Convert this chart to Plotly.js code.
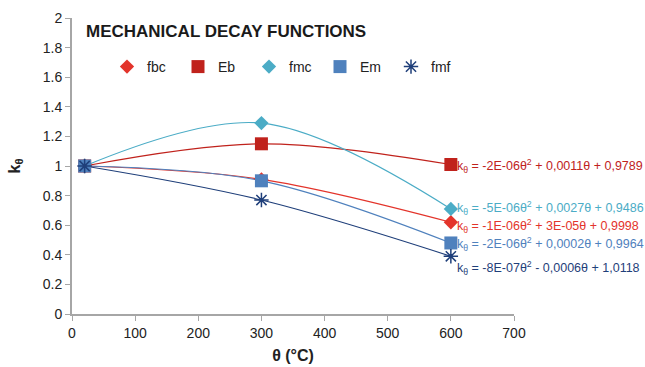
<!DOCTYPE html>
<html>
<head>
<meta charset="utf-8">
<script src="https://cdn.plot.ly/plotly-3.0.1.min.js"></script>
<style>html,body{margin:0;padding:0;background:#fff;}#chart{width:645px;height:367px;}</style>
</head>
<body>
<div id="chart"></div>
<script>
const theta = [20, 300, 600];
const seriesNames = ["fbc", "Eb", "fmc", "Em", "fmf"];
const fbc = [1, 0.91, 0.62];
const Eb = [1, 1.15, 1.01];
const fmc = [1, 1.29, 0.71];
const Em = [1, 0.90, 0.48];
const fmf = [1, 0.77, 0.39];
const equations = [
  "k<sub>θ</sub> = -1E-06θ<sup>2</sup> + 3E-05θ + 0,9998",
  "k<sub>θ</sub> = -2E-06θ<sup>2</sup> + 0,0011θ + 0,9789",
  "k<sub>θ</sub> = -5E-06θ<sup>2</sup> + 0,0027θ + 0,9486",
  "k<sub>θ</sub> = -2E-06θ<sup>2</sup> + 0,0002θ + 0,9964",
  "k<sub>θ</sub> = -8E-07θ<sup>2</sup> - 0,0006θ + 1,0118"
];
const xTicks = [0, 100, 200, 300, 400, 500, 600, 700];
const yTicks = [0, 0.2, 0.4, 0.6, 0.8, 1, 1.2, 1.4, 1.6, 1.8, 2];

const values = [fbc, Eb, fmc, Em, fmf];
const colors = ["#e3342b", "#c0221c", "#4bacc6", "#4f81bd", "#1f3f7a"];
const symbols = ["diamond", "square", "diamond", "square", "asterisk-open"];
const sizes = [11, 13, 11, 13, 12];
const eqY = [226, 166, 208, 244, 268];

const traces = [];
values.forEach((v, i) => {
  traces.push({
    x: theta, y: v, type: "scatter", mode: "lines",
    line: {color: colors[i], width: 1.2, shape: "spline", smoothing: 1},
    showlegend: false, hoverinfo: "skip"
  });
});
values.forEach((v, i) => {
  traces.push({
    x: theta, y: v, type: "scatter", mode: "markers", name: seriesNames[i],
    marker: {color: colors[i], symbol: symbols[i], size: sizes[i],
             line: {color: colors[i], width: symbols[i] === "asterisk-open" ? 1.5 : 0}}
  });
});

const annotations = [];
annotations.push({
  xref: "paper", yref: "paper", x: (84 - 72) / 442, y: (314 - 31) / 296,
  xanchor: "left", yanchor: "middle", showarrow: false,
  text: "<b>MECHANICAL DECAY FUNCTIONS</b>",
  font: {family: "Liberation Sans, Arial, sans-serif", size: 17, color: "#1a1a1a"}
});
equations.forEach((t, i) => {
  annotations.push({
    xref: "paper", yref: "paper", x: (455 - 72) / 442, y: (314 - eqY[i]) / 296,
    xanchor: "left", yanchor: "middle", showarrow: false, text: t,
    font: {family: "Liberation Sans, Arial, sans-serif", size: 12.5, color: colors[i]}
  });
});

const axisCommon = {
  showgrid: false, zeroline: false, showline: true, linecolor: "#a6a6a6", linewidth: 2,
  ticks: "outside", ticklen: 5, tickcolor: "#a6a6a6", tickwidth: 1,
  tickfont: {family: "Liberation Sans, Arial, sans-serif", size: 14, color: "#222"}
};

const layout = {
  width: 645, height: 367,
  margin: {l: 72, r: 131, t: 18, b: 53},
  paper_bgcolor: "#fff", plot_bgcolor: "#fff",
  font: {family: "Liberation Sans, Arial, sans-serif"},
  xaxis: Object.assign({}, axisCommon, {
    range: [0, 700], tickvals: xTicks, ticktext: xTicks.map(String),
    title: {text: "<b>θ (°C)</b>", standoff: 10, font: {size: 16, color: "#222"}}
  }),
  yaxis: Object.assign({}, axisCommon, {
    range: [0, 2], tickvals: yTicks, ticktext: yTicks.map(String),
    title: {text: "<b>k<sub>θ</sub></b>", standoff: 18, font: {size: 16, color: "#222"}}
  }),
  showlegend: true,
  legend: {
    orientation: "h", x: (107 - 72) / 442, y: (314 - 67) / 296, xanchor: "left", yanchor: "middle",
    entrywidth: 26, entrywidthmode: "pixels", itemwidth: 30,
    font: {family: "Liberation Sans, Arial, sans-serif", size: 14, color: "#222"},
    bgcolor: "rgba(0,0,0,0)"
  },
  annotations: annotations
};

Plotly.newPlot("chart", traces, layout, {displayModeBar: false, staticPlot: true});
</script>
</body>
</html>
